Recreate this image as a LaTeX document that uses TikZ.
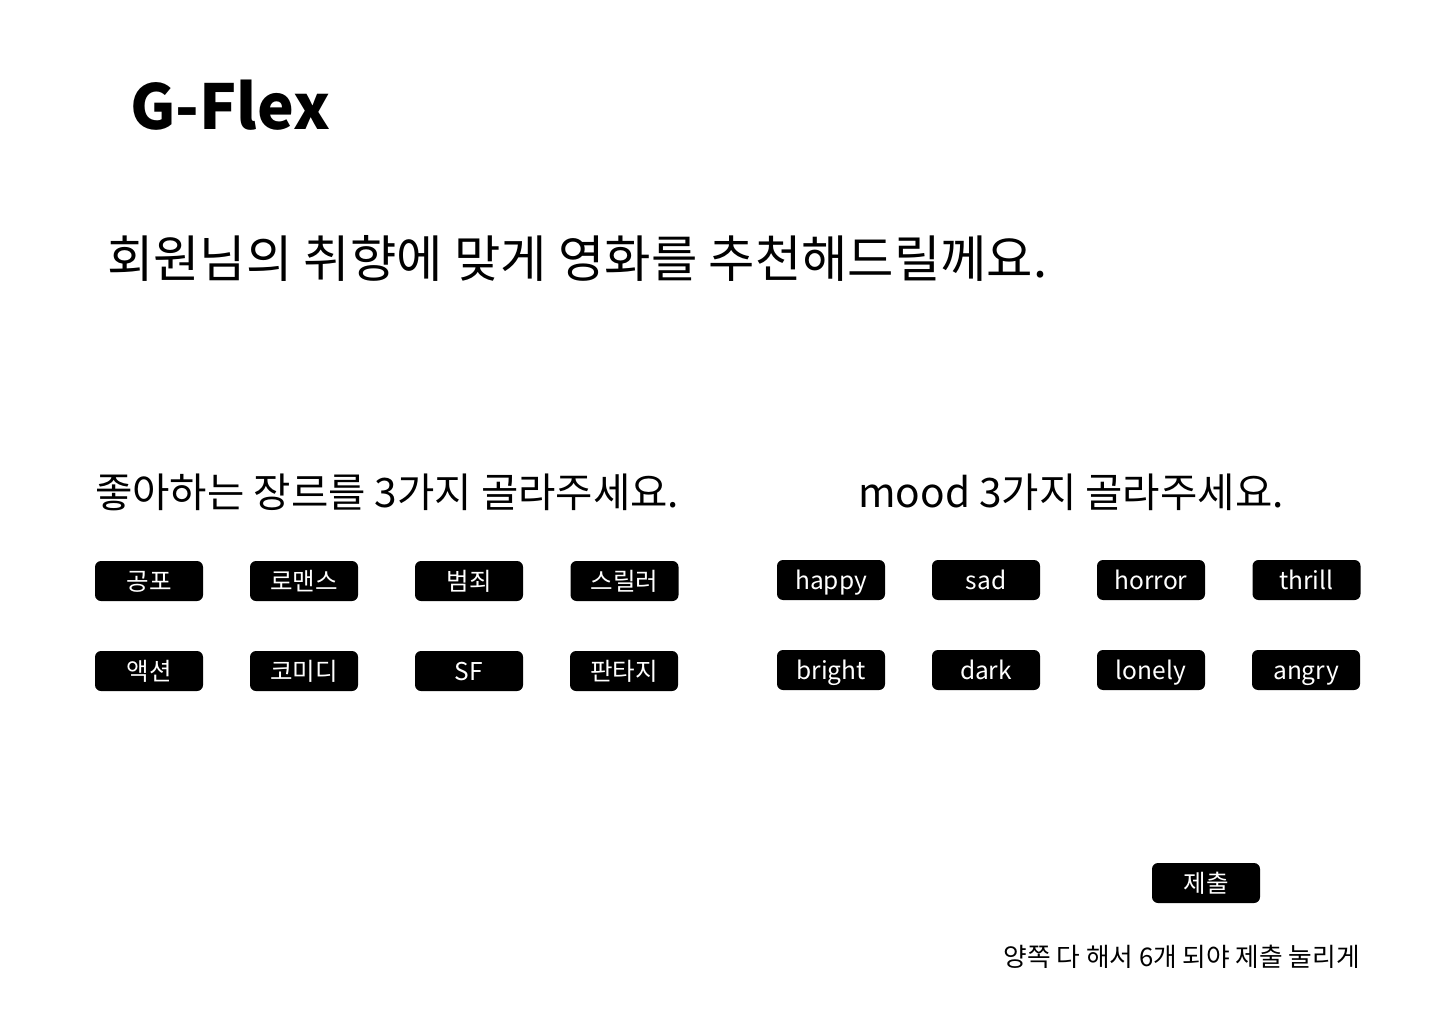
\documentclass[tikz,border=0pt]{standalone}
\usepackage{fontspec}
\setmainfont{Noto Sans CJK KR}
\usetikzlibrary{positioning}

\begin{document}
\begin{tikzpicture}[x=1pt,y=-1pt]
  \tikzstyle{tag}=[rectangle,rounded corners=6pt,fill=black,text=white,minimum width=108pt,minimum height=40pt,inner sep=0pt,text height=19pt,text depth=0pt,font=\fontsize{24.5}{28}\selectfont]
  \tikzstyle{head}=[inner sep=0pt,anchor=base west,font=\fontsize{40.6}{48}\selectfont]
  \useasboundingbox[fill=white](0,0) rectangle (1440,1024);
  % title and question
  \node(title) at (130,130) [inner sep=0pt,anchor=base west,font=\fontsize{62}{74}\selectfont\bfseries]{G-Flex};
  \node(ask) at (107,278) [inner sep=0pt,anchor=base west,font=\fontsize{50.4}{60}\selectfont]{회원님의 취향에 맞게 영화를 추천해드릴께요.};
  % genre
  \node(genre) at (95,507) [head]{좋아하는 장르를 3가지 골라주세요.};
  \node(g-horror) at (149,581) [tag]{공포};
  \node(g-romance) at (304,581) [tag]{로맨스};
  \node(g-crime) at (469,581) [tag]{범죄};
  \node(g-thriller) at (624.5,581) [tag]{스릴러};
  \node(g-action) at (149,671) [tag]{액션};
  \node(g-comedy) at (304,671) [tag]{코미디};
  \node(g-sf) at (469,671) [tag]{SF};
  \node(g-fantasy) at (624,671) [tag]{판타지};
  % mood
  \node(mood) at (858,507) [head]{mood 3가지 골라주세요.};
  \node(m-happy) at (831,580) [tag]{happy};
  \node(m-sad) at (986,580) [tag]{sad};
  \node(m-horror) at (1151,580) [tag]{horror};
  \node(m-thrill) at (1306.5,580) [tag]{thrill};
  \node(m-bright) at (831,670) [tag]{bright};
  \node(m-dark) at (986,670) [tag]{dark};
  \node(m-lonely) at (1151,670) [tag]{lonely};
  \node(m-angry) at (1306,670) [tag]{angry};
  % submit
  \node(submit) at (1206,883) [tag]{제출};
  \node(note) at (1360,966) [inner sep=0pt,anchor=base east,font=\fontsize{25.7}{30}\selectfont]{양쪽 다 해서 6개 되야 제출 눌리게};
\end{tikzpicture}
\end{document}
